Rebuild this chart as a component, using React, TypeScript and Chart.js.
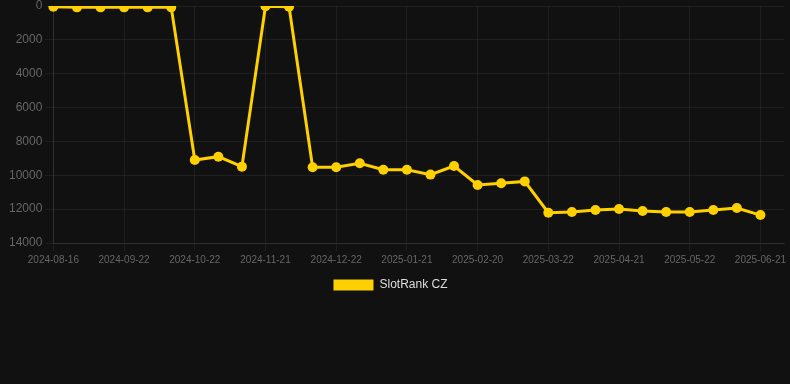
import React, { useEffect, useRef } from "react";
import { Chart, registerables } from "chart.js";

Chart.register(...registerables);

const dateLabels: string[] = [
  "2024-08-16", "2024-08-28", "2024-09-10", "2024-09-22", "2024-10-02", "2024-10-12",
  "2024-10-22", "2024-11-01", "2024-11-11", "2024-11-21", "2024-12-01", "2024-12-11",
  "2024-12-22", "2025-01-01", "2025-01-11", "2025-01-21", "2025-01-31", "2025-02-10",
  "2025-02-20", "2025-03-02", "2025-03-12", "2025-03-22", "2025-04-01", "2025-04-11",
  "2025-04-21", "2025-05-01", "2025-05-11", "2025-05-22", "2025-06-01", "2025-06-11",
  "2025-06-21", "2025-07-01",
];

const rankValues: (number | null)[] = [
  40, 80, 80, 80, 80, 80,
  9100, 8900, 9490, 10, 40,
  9530, 9530, 9290, 9670, 9670, 9960, 9450,
  10570, 10470, 10360,
  12210, 12170, 12050, 11990, 12110, 12170, 12170, 12050, 11930, 12350,
  null,
];

const seriesName = "SlotRank CZ";
const yTicks = [0, 2000, 4000, 6000, 8000, 10000, 12000, 14000];

const shiftLegend = {
  id: "shiftLegend",
  afterLayout(chart: any) {
    if (chart.legend) {
      chart.legend.left -= 5;
      chart.legend.right -= 5;
    }
  },
};

export default function App() {
  const ref = useRef<HTMLCanvasElement | null>(null);

  useEffect(() => {
    document.body.style.margin = "0";
    document.body.style.background = "#111111";
    const ctx = ref.current;
    if (!ctx) return;
    const font = { family: "Arial, 'Liberation Sans', sans-serif" };
    const chart = new Chart(ctx, {
      type: "line",
      data: {
        labels: dateLabels,
        datasets: [
          {
            label: seriesName,
            data: rankValues,
            borderColor: "#FFD000",
            backgroundColor: "#FFD000",
            borderWidth: 3,
            pointRadius: 5,
            pointBorderWidth: 0,
            pointHoverRadius: 6,
            pointBackgroundColor: "#FFD000",
            pointBorderColor: "#FFD000",
            tension: 0,
            spanGaps: false,
          },
        ],
      },
      plugins: [shiftLegend],
      options: {
        animation: false,
        responsive: false,
        maintainAspectRatio: false,
        layout: { padding: { top: 0, right: 5, left: 6 } },
        plugins: {
          legend: {
            position: "bottom",
            labels: {
              color: "#dddddd",
              font: { ...font, size: 12 },
              boxWidth: 40,
              boxHeight: 11,
              generateLabels: (c: any) =>
                Chart.defaults.plugins.legend.labels
                  .generateLabels(c)
                  .map((l: any) => ({ ...l, lineWidth: 0 })),
            },
          },
          tooltip: { enabled: false },
        },
        scales: {
          x: {
            type: "category",
            offset: false,
            grid: {
              color: (c: any) => (c.index % 3 === 0 ? "rgba(255,255,255,0.06)" : "rgba(0,0,0,0)"),
              tickLength: 8,
            },
            border: { color: "rgba(255,255,255,0.08)" },
            ticks: {
              autoSkip: false,
              maxRotation: 0,
              color: "#666666",
              font: { ...font, size: 10 },
              callback: function (_v: any, i: number) {
                return i % 3 === 0 ? dateLabels[i] : "";
              },
            },
          },
          y: {
            reverse: true,
            min: yTicks[0],
            max: yTicks[yTicks.length - 1],
            afterBuildTicks: (axis: any) => {
              axis.ticks = yTicks.map((v) => ({ value: v }));
            },
            grid: { color: "rgba(255,255,255,0.06)", tickLength: 8 },
            border: { color: "rgba(255,255,255,0.08)" },
            ticks: {
              color: "#666666",
              font: { ...font, size: 12, lineHeight: 0.5 },
              callback: (v: any) => String(v),
            },
          },
        },
      },
    });
    return () => chart.destroy();
  }, []);

  return (
    <div style={{ width: 790, height: 384, background: "#111111" }}>
      <canvas ref={ref} width={790} height={301} style={{ display: "block" }} />
    </div>
  );
}
